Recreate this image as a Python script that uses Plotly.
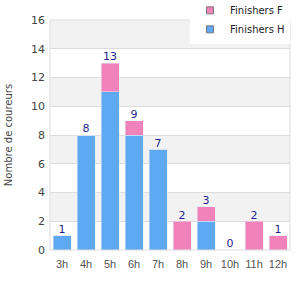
import plotly.graph_objects as go

categories = ["3h", "4h", "5h", "6h", "7h", "8h", "9h", "10h", "11h", "12h"]
finishers_h = [1, 8, 11, 8, 7, 0, 2, 0, 0, 0]
finishers_f = [0, 0, 2, 1, 0, 2, 1, 0, 2, 1]
totals = [h + f for h, f in zip(finishers_h, finishers_f)]
y_ticks = [0, 2, 4, 6, 8, 10, 12, 14, 16]

BLUE = "#5FA8F2"
PINK = "#F282BA"
FONT = "DejaVu Sans"

fig = go.Figure()
fig.add_trace(go.Bar(x=categories, y=finishers_h, marker_color=BLUE, showlegend=False, name="Finishers H"))
fig.add_trace(go.Bar(x=categories, y=finishers_f, marker_color=PINK, showlegend=False, name="Finishers F"))
fig.add_trace(go.Scatter(x=categories, y=totals, mode="text", text=[str(t) for t in totals],
                         textposition="top center", textfont=dict(color="#1F1F8A", size=11, family=FONT),
                         showlegend=False, cliponaxis=False))
# legend-only items
fig.add_trace(go.Scatter(x=[None], y=[None], mode="markers", name="Finishers H",
                         marker=dict(symbol="square", size=7, color=BLUE, line=dict(color="#777", width=1))))
fig.add_trace(go.Scatter(x=[None], y=[None], mode="markers", name="Finishers F",
                         marker=dict(symbol="square", size=7, color=PINK, line=dict(color="#777", width=1))))

shapes = []
for lo in [2, 6, 10, 14]:
    shapes.append(dict(type="rect", xref="paper", yref="y", x0=0, x1=1, y0=lo, y1=lo + 2,
                       fillcolor="#F2F2F2", line=dict(width=0), layer="below"))
shapes.append(dict(type="rect", xref="paper", yref="paper", x0=0, x1=1, y0=0, y1=1,
                   line=dict(color="#DDDDDD", width=1), fillcolor="rgba(0,0,0,0)", layer="above"))
fig.update_layout(
    width=300, height=300,
    margin=dict(l=50, r=10, t=20, b=50, autoexpand=False),
    paper_bgcolor="white", plot_bgcolor="white",
    barmode="stack", bargap=0.25,
    font=dict(family=FONT, size=11, color="#444"),
    shapes=shapes,
    xaxis=dict(showgrid=False, ticks="", tickfont=dict(size=11, color="#555", family="Liberation Sans"),
               showline=False, tickangle=0, ticklabelstandoff=6, fixedrange=True),
    yaxis=dict(range=[0, 16], tickvals=y_ticks, showgrid=True, gridcolor="#DDDDDD", gridwidth=1,
               zeroline=False, ticks="", tickfont=dict(size=11, color="#444"), ticklabelstandoff=4,
               title=dict(text="Nombre de coureurs", font=dict(size=10, color="#444"), standoff=16)),
    legend=dict(xref="paper", yref="paper", x=1.0, y=1.105, xanchor="right", yanchor="top",
                bgcolor="white", traceorder="reversed", font=dict(size=10, color="#222"),
                itemwidth=30, tracegroupgap=0),
)
fig.write_html("out.html")
